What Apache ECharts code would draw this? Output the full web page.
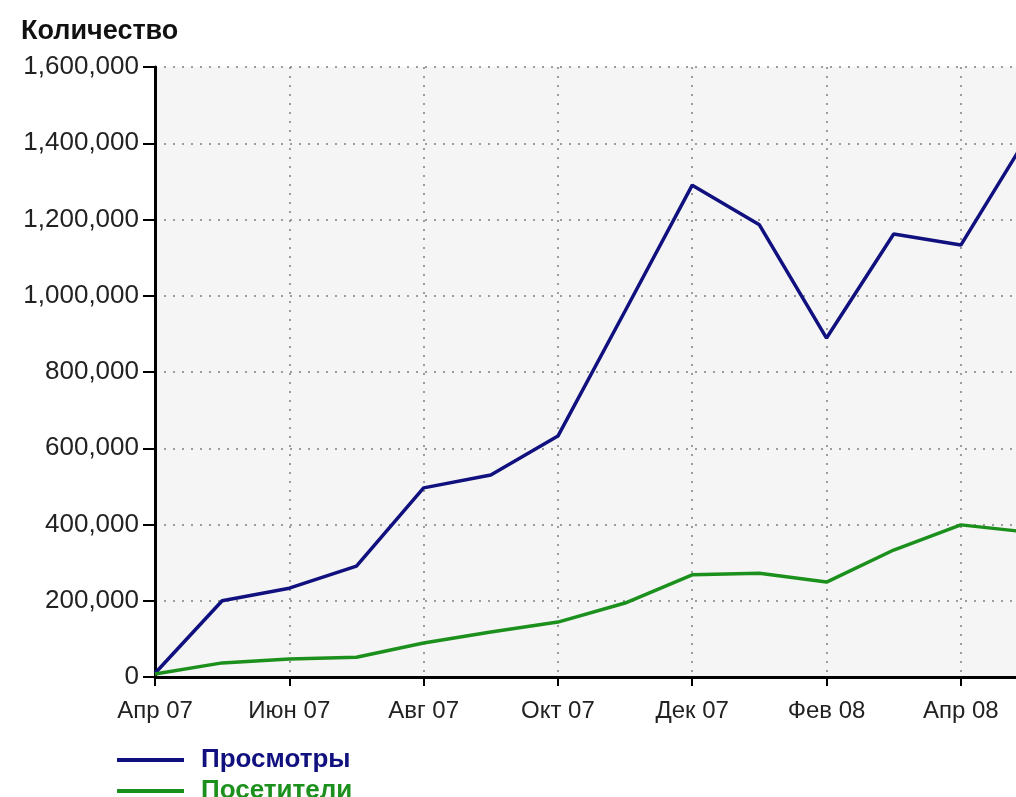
<!DOCTYPE html>
<html lang="ru">
  <head>
    <meta charset="UTF-8" />
    <title>Количество</title>
    <script src="https://cdn.jsdelivr.net/npm/echarts@6/dist/echarts.min.js"></script>
    <style>
      html, body { margin: 0; padding: 0; overflow: hidden; background: #fff; }
    </style>
  </head>
  <body>
    <!-- the source chart is cut off on the right, so the canvas is a bit wider than the window -->
    <div id="main" style="width: 1040px; height: 797px;"></div>
    <script type="text/javascript">
      // months, April 2007 .. May 2008
      var months = ['Апр 07', 'Май 07', 'Июн 07', 'Июл 07', 'Авг 07', 'Сен 07', 'Окт 07',
                    'Ноя 07', 'Дек 07', 'Янв 08', 'Фев 08', 'Мар 08', 'Апр 08', 'Май 08'];
      // page views
      var views = [10000, 200000, 233000, 291000, 496000, 530000, 632000,
                   960000, 1290000, 1186000, 889000, 1162000, 1133000, 1420000];
      // visitors
      var visitors = [8000, 37000, 47000, 52000, 89000, 118000, 144000,
                      194000, 268000, 272000, 249000, 333000, 399000, 380000];

      var blue = '#10107f';
      var green = '#1c901c';
      var font = "'Liberation Sans', Arial, sans-serif";

      var myChart = echarts.init(document.getElementById('main'));

      // one legend per series so they stack like in the original
      function legendFor(name, color, top) {
        return {
          left: 112,
          top: top,
          icon: 'rect',
          itemWidth: 67,
          itemHeight: 4,
          data: [{ name: name, textStyle: { color: color } }],
          textStyle: { fontFamily: font, fontWeight: 'bold', fontSize: 26, padding: [0, 0, 0, 12] }
        };
      }

      var option = {
        backgroundColor: '#fff',
        animation: false,
        title: {
          text: 'Количество',
          left: 16,
          top: 13,
          textStyle: { fontFamily: font, fontWeight: 'bold', fontSize: 27, color: '#111' }
        },
        legend: [
          legendFor('Просмотры', blue, 742),
          legendFor('Посетители', green, 773)
        ],
        grid: {
          left: 155,
          right: 12,
          top: 67,
          bottom: 120,
          show: true,
          backgroundColor: '#f5f5f5',
          borderWidth: 0
        },
        xAxis: {
          type: 'category',
          boundaryGap: false,
          data: months,
          axisLine: { lineStyle: { color: '#000', width: 3 } },
          axisTick: { interval: 1, length: 9, lineStyle: { color: '#000', width: 2 } },
          axisLabel: { interval: 1, margin: 22, fontFamily: font, fontSize: 24, color: '#222' },
          splitLine: { show: true, interval: 1, lineStyle: { color: '#808080', type: [2, 7], width: 1.5 } }
        },
        yAxis: {
          type: 'value',
          min: 0,
          max: 1600000,
          interval: 200000,
          axisLine: { show: true, lineStyle: { color: '#000', width: 3 } },
          axisTick: { show: true, length: 12, lineStyle: { color: '#000', width: 2 } },
          axisLabel: {
            margin: 16,
            fontFamily: font,
            fontSize: 26,
            color: '#222',
            formatter: function (v) { return v.toString().replace(/\B(?=(\d{3})+(?!\d))/g, ','); }
          },
          splitLine: { show: true, lineStyle: { color: '#808080', type: [2, 7], width: 1.5 } }
        },
        series: [
          {
            name: 'Просмотры',
            type: 'line',
            data: views,
            symbol: 'none',
            lineStyle: { color: blue, width: 3.5 },
            itemStyle: { color: blue }
          },
          {
            name: 'Посетители',
            type: 'line',
            data: visitors,
            symbol: 'none',
            lineStyle: { color: green, width: 3.5 },
            itemStyle: { color: green }
          }
        ]
      };

      myChart.setOption(option);
    </script>
  </body>
</html>
